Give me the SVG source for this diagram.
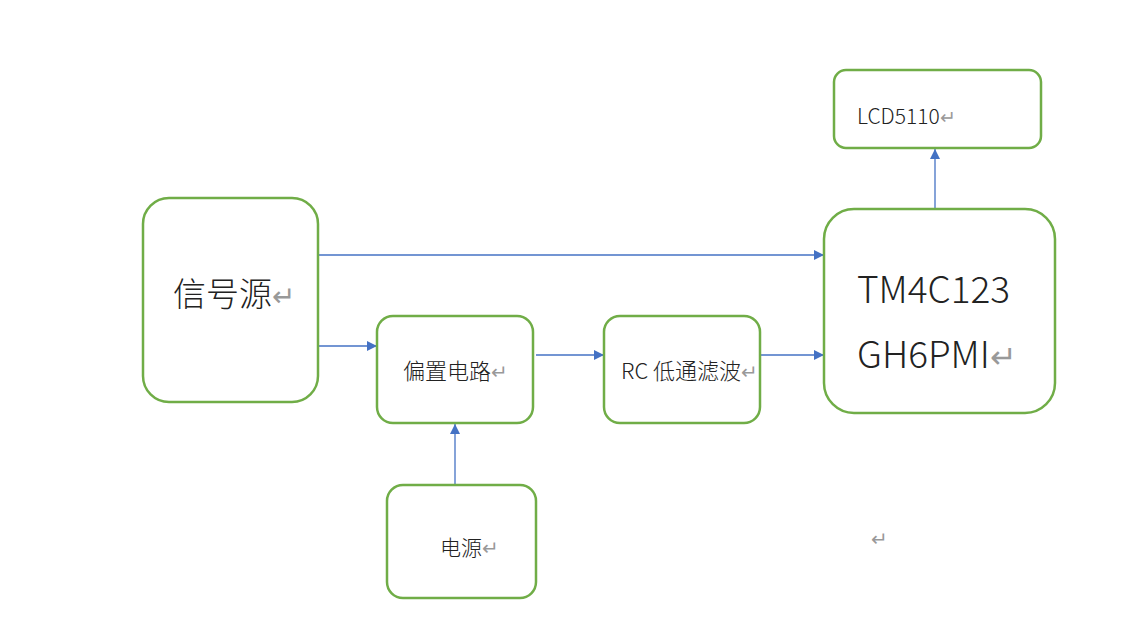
<svg xmlns="http://www.w3.org/2000/svg" width="1137" height="624" viewBox="0 0 1137 624">
<style>
.box{fill:#fff;stroke:#70AD47;stroke-width:2.5}
.t{font-family:"Noto Sans CJK SC","Microsoft YaHei",sans-serif;font-weight:300;fill:#222}
.r{fill:#999}
.c{stroke:#4472C4;stroke-width:1.3;fill:none}
</style>
<defs>
<marker id="a" viewBox="0 0 10 10" refX="10" refY="5" markerWidth="10" markerHeight="10" markerUnits="userSpaceOnUse" orient="auto">
<path d="M0,0L10,5L0,10z" fill="#4472C4"/>
</marker>
</defs>
<rect width="1137" height="624" fill="#fff"/>
<g id="connectors">
<line class="c" x1="318" y1="255" x2="824" y2="255" marker-end="url(#a)"/>
<line class="c" x1="318" y1="346" x2="377" y2="346" marker-end="url(#a)"/>
<line class="c" x1="536" y1="355" x2="604" y2="355" marker-end="url(#a)"/>
<line class="c" x1="760" y1="355" x2="824" y2="355" marker-end="url(#a)"/>
<line class="c" x1="455" y1="485" x2="455" y2="424" marker-end="url(#a)"/>
<line class="c" x1="935" y1="209" x2="935" y2="149" marker-end="url(#a)"/>
</g>
<g id="signal">
<rect class="box" x="143" y="198" width="175" height="204" rx="26"/>
<text class="t" x="173" y="306" font-size="33">信号源<tspan class="r" font-size="28">↵</tspan></text>
</g>
<g id="bias">
<rect class="box" x="377" y="316" width="156" height="107" rx="16"/>
<text class="t" x="403" y="379" font-size="22">偏置电路<tspan class="r" font-size="20">↵</tspan></text>
</g>
<g id="rc">
<rect class="box" x="604" y="316" width="156" height="107" rx="16"/>
<text class="t" x="621" y="379" font-size="22">RC 低通滤波<tspan class="r" font-size="20">↵</tspan></text>
</g>
<g id="mcu">
<rect class="box" x="824" y="209" width="231" height="204" rx="30"/>
<text class="t" x="857" y="303" font-size="37">TM4C123</text>
<text class="t" x="857" y="368" font-size="37">GH6PMI<tspan class="r" font-size="32">↵</tspan></text>
</g>
<g id="lcd">
<rect class="box" x="834" y="70" width="207" height="78" rx="12"/>
<text class="t" x="857" y="124" font-size="21">LCD5110<tspan class="r" font-size="19">↵</tspan></text>
</g>
<g id="power">
<rect class="box" x="387" y="485" width="149" height="113" rx="16"/>
<text class="t" x="440" y="555" font-size="21">电源<tspan class="r" font-size="20">↵</tspan></text>
</g>
<text class="t r" x="871" y="546" font-size="20">↵</text>
</svg>
